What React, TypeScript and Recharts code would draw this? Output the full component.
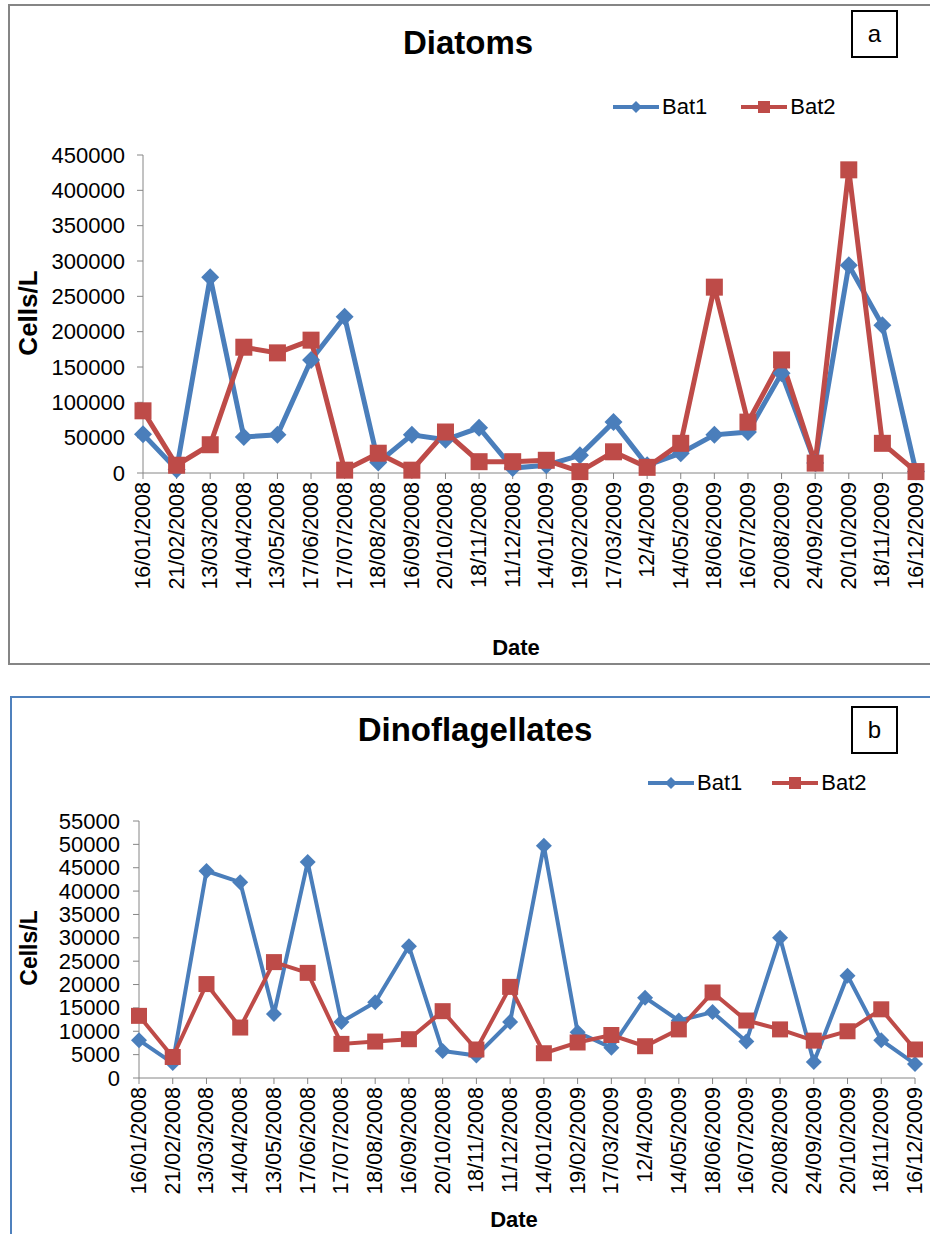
import React from 'react';
import { LineChart, Line, XAxis, YAxis } from 'recharts';

const dates = [
    '16/01/2008', '21/02/2008', '13/03/2008', '14/04/2008', '13/05/2008', '17/06/2008',
    '17/07/2008', '18/08/2008', '16/09/2008', '20/10/2008', '18/11/2008', '11/12/2008',
    '14/01/2009', '19/02/2009', '17/03/2009', '12/4/2009', '14/05/2009', '18/06/2009',
    '16/07/2009', '20/08/2009', '24/09/2009', '20/10/2009', '18/11/2009', '16/12/2009',
];

// Diatoms (cells/L)
const diatomsBat1 = [
    55000, 5000, 277000, 51000, 54000, 160000, 221000, 15000, 54000, 47000, 64000, 7000,
    11000, 25000, 72000, 11000, 28000, 54000, 58000, 141000, 14000, 294000, 209000, 2000,
];
const diatomsBat2 = [
    88000, 11000, 40000, 178000, 170000, 188000, 4000, 28000, 4000, 58000, 16000, 16000,
    18000, 2000, 30000, 8000, 42000, 263000, 72000, 160000, 14000, 429000, 42000, 2000,
];

// Dinoflagellates (cells/L)
const dinoBat1 = [
    8100, 3200, 44300, 41900, 13700, 46200, 12000, 16200, 28200, 5800, 4800, 12000,
    49700, 9800, 6500, 17200, 12300, 14100, 7800, 30000, 3400, 21900, 8100, 3000,
];
const dinoBat2 = [
    13300, 4500, 20100, 10800, 24800, 22500, 7300, 7800, 8300, 14300, 6100, 19500,
    5300, 7600, 9200, 6800, 10400, 18300, 12300, 10400, 8000, 10000, 14700, 6100,
];

const diatomsTicks = [0, 50000, 100000, 150000, 200000, 250000, 300000, 350000, 400000, 450000];
const dinoTicks = [0, 5000, 10000, 15000, 20000, 25000, 30000, 35000, 40000, 45000, 50000, 55000];

const BLUE = '#4A7EBB';
const RED = '#BE4B48';
const AXIS = '#868686';
const FONT = '"Liberation Sans", Arial, sans-serif';

const diatomsData = dates.map((d, i) => ({ date: d, bat1: diatomsBat1[i], bat2: diatomsBat2[i] }));
const dinoData = dates.map((d, i) => ({ date: d, bat1: dinoBat1[i], bat2: dinoBat2[i] }));

const diamond = (size: number) => (props: any) => {
    const { cx, cy, index } = props;
    if (cx == null || cy == null) return <g key={index} />;
    return (
        <path
            key={index}
            d={`M${cx},${cy - size} L${cx + size},${cy} L${cx},${cy + size} L${cx - size},${cy} Z`}
            fill={BLUE}
        />
    );
};

const square = (half: number) => (props: any) => {
    const { cx, cy, index } = props;
    if (cx == null || cy == null) return <g key={index} />;
    return <rect key={index} x={cx - half} y={cy - half} width={half * 2} height={half * 2} fill={RED} />;
};

const XTick = (props: any) => {
    const { x, y, payload } = props;
    return (
        <text
            transform={`translate(${x},${y}) rotate(-90)`}
            textAnchor="end"
            dominantBaseline="central"
            fontSize={21.5}
            fontFamily={FONT}
            fill="#000"
        >
            {payload.value}
        </text>
    );
};

const makeYTick = (fontSize: number) => (props: any) => {
    const { x, y, payload } = props;
    return (
        <text x={x} y={y} textAnchor="end" dominantBaseline="central" fontSize={fontSize} fontFamily={FONT} fill="#000">
            {payload.value}
        </text>
    );
};

const abs = (style: React.CSSProperties): React.CSSProperties => ({ position: 'absolute', ...style });

const LegendRow: React.FC<{ left: number; top: number; gap: number }> = ({ left, top, gap }) => (
    <div style={abs({ left, top, display: 'flex', alignItems: 'center', fontFamily: FONT, fontSize: 22 })}>
        <svg width={46} height={20}>
            <line x1={0} y1={10} x2={46} y2={10} stroke={BLUE} strokeWidth={4} />
            <path d="M23,4 L29,10 L23,16 L17,10 Z" fill={BLUE} />
        </svg>
        <span style={{ marginLeft: 3 }}>Bat1</span>
        <svg width={46} height={20} style={{ marginLeft: gap }}>
            <line x1={0} y1={10} x2={46} y2={10} stroke={RED} strokeWidth={4} />
            <rect x={17} y={4} width={12} height={12} fill={RED} />
        </svg>
        <span style={{ marginLeft: 3 }}>Bat2</span>
    </div>
);

const LetterBox: React.FC<{ top: number; letter: string }> = ({ top, letter }) => (
    <div
        style={abs({
            left: 851, top, width: 43, height: 44, border: '2px solid #000', background: '#fff',
            display: 'flex', alignItems: 'center', justifyContent: 'center', fontFamily: FONT, fontSize: 24,
        })}
    >
        {letter}
    </div>
);

const axisProps = { stroke: AXIS, tickLine: { stroke: AXIS }, tickSize: 6 };

export default function App() {
    return (
        <div style={abs({ left: 0, top: 0, width: 930, height: 1234, background: '#fff', overflow: 'hidden' })}>
            {/* panel a */}
            <div style={abs({ left: 8, top: 4, width: 940, height: 657, border: '2px solid #858585', borderRight: 'none' })} />
            <div style={abs({ left: 0, top: 0 })}>
                <LineChart width={930} height={662} data={diatomsData} margin={{ top: 155, right: 14, left: 43, bottom: 59 }}>
                    <XAxis
                        dataKey="date"
                        interval={0}
                        height={130}
                        tick={<XTick />}
                        tickMargin={3}
                        {...axisProps}
                    />
                    <YAxis
                        domain={[0, 450000]}
                        ticks={diatomsTicks}
                        width={100}
                        tick={makeYTick(22)}
                        tickMargin={12}
                        {...axisProps}
                    />
                    <Line dataKey="bat1" stroke={BLUE} strokeWidth={5} dot={diamond(9)} isAnimationActive={false} />
                    <Line dataKey="bat2" stroke={RED} strokeWidth={5} dot={square(8.5)} isAnimationActive={false} />
                </LineChart>
            </div>
            <div style={abs({ left: 0, width: 936, top: 24, textAlign: 'center', fontFamily: FONT, fontWeight: 'bold', fontSize: 33 })}>
                Diatoms
            </div>
            <LetterBox top={10} letter="a" />
            <LegendRow left={613} top={94} gap={34} />
            <div
                style={abs({
                    left: 28, top: 313, transform: 'translate(-50%,-50%) rotate(-90deg)', fontFamily: FONT,
                    fontWeight: 'bold', fontSize: 26, whiteSpace: 'nowrap',
                })}
            >
                Cells/L
            </div>
            <div style={abs({ left: 516, top: 648, transform: 'translate(-50%,-50%)', fontFamily: FONT, fontWeight: 'bold', fontSize: 22 })}>
                Date
            </div>

            {/* panel b */}
            <div style={abs({ left: 10, top: 696, width: 940, height: 600, border: '2px solid #4F81BD', borderRight: 'none', borderBottom: 'none' })} />
            <div style={abs({ left: 0, top: 697 })}>
                <LineChart width={930} height={537} data={dinoData} margin={{ top: 124, right: 15, left: 39, bottom: 36 }}>
                    <XAxis
                        dataKey="date"
                        interval={0}
                        height={120}
                        tick={<XTick />}
                        tickMargin={3}
                        {...axisProps}
                    />
                    <YAxis
                        domain={[0, 55000]}
                        ticks={dinoTicks}
                        width={100}
                        tick={makeYTick(22)}
                        tickMargin={13}
                        {...axisProps}
                    />
                    <Line dataKey="bat1" stroke={BLUE} strokeWidth={4} dot={diamond(8)} isAnimationActive={false} />
                    <Line dataKey="bat2" stroke={RED} strokeWidth={4} dot={square(8)} isAnimationActive={false} />
                </LineChart>
            </div>
            <div style={abs({ left: 0, width: 950, top: 711, textAlign: 'center', fontFamily: FONT, fontWeight: 'bold', fontSize: 33 })}>
                Dinoflagellates
            </div>
            <LetterBox top={706} letter="b" />
            <LegendRow left={648} top={770} gap={30} />
            <div
                style={abs({
                    left: 29, top: 948, transform: 'translate(-50%,-50%) rotate(-90deg)', fontFamily: FONT,
                    fontWeight: 'bold', fontSize: 23, whiteSpace: 'nowrap',
                })}
            >
                Cells/L
            </div>
            <div style={abs({ left: 514, top: 1220, transform: 'translate(-50%,-50%)', fontFamily: FONT, fontWeight: 'bold', fontSize: 22 })}>
                Date
            </div>
        </div>
    );
}
